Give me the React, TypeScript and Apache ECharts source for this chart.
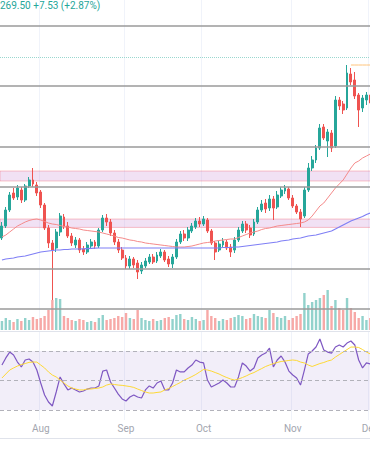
import React, { useEffect, useRef } from "react";
import * as echarts from "echarts";

const dates = [
  "2024-07-18","2024-07-19","2024-07-22","2024-07-23","2024-07-24","2024-07-25","2024-07-26","2024-07-29","2024-07-30","2024-07-31",
  "2024-08-01","2024-08-02","2024-08-05","2024-08-06","2024-08-07","2024-08-08","2024-08-09","2024-08-12","2024-08-13","2024-08-14",
  "2024-08-15","2024-08-16","2024-08-19","2024-08-20","2024-08-21","2024-08-22","2024-08-23","2024-08-26","2024-08-27","2024-08-28",
  "2024-08-29","2024-08-30","2024-09-03","2024-09-04","2024-09-05","2024-09-06","2024-09-09","2024-09-10","2024-09-11","2024-09-12",
  "2024-09-13","2024-09-16","2024-09-17","2024-09-18","2024-09-19","2024-09-20","2024-09-23","2024-09-24","2024-09-25","2024-09-26",
  "2024-09-27","2024-09-30","2024-10-01","2024-10-02","2024-10-03","2024-10-04","2024-10-07","2024-10-08","2024-10-09","2024-10-10",
  "2024-10-11","2024-10-14","2024-10-15","2024-10-16","2024-10-17","2024-10-18","2024-10-21","2024-10-22","2024-10-23","2024-10-24",
  "2024-10-25","2024-10-28","2024-10-29","2024-10-30","2024-10-31","2024-11-01","2024-11-04","2024-11-05","2024-11-06","2024-11-07",
  "2024-11-08","2024-11-11","2024-11-12","2024-11-13","2024-11-14","2024-11-15","2024-11-18","2024-11-19","2024-11-20","2024-11-21",
  "2024-11-22","2024-11-25","2024-11-26","2024-11-27","2024-11-29","2024-12-02","2024-12-03","2024-12-04",
];

// [open, close, low, high]
const ohlc: number[][] = [
  [179,185,178,187],[185,193,184,194.5],[193,200.5,192,202],[201.5,199,198,204],[199.5,204,198,205.5],
  [203,198,196.5,204.5],[198,205,197,206],[205,208,204,209.5],[208,206,204.5,214],[205.5,201.5,200,207],
  [202,195.5,194,203],[195.5,184,183,196.5],[184,176.5,174,185.5],[176.5,173,148,178],[174,182,172,183.5],
  [182,190,180,191.5],[189.5,185,183.5,191],[185,180,179,187],[180,176.5,175,181.5],[175.5,178,174,179.5],
  [178,173,171.5,179],[173.5,172,170.5,175],[172,175.5,171,177],[175,177,174,178.5],[177,175,173.5,178],
  [175,183,174,184],[183,189,182,190.5],[189,187,185,191],[187,181.5,180,188.5],[181.5,177,175.5,183],
  [177,173,171.5,178.5],[173,169,168,174.5],[169,165,163.5,170.5],[165,168.5,163.5,170],[168.5,165.5,164,169.5],
  [166.5,162,158.5,168],[162.5,165.5,161,167],[165,167.5,164,169],[167,169.5,166,171],[169.5,167,166,171],
  [167.5,170.5,166.5,172],[170,172,169,173.5],[172,168,167,173],[168.5,166,164.5,170],[166,169.5,164,171],
  [169.5,177,168.5,178.5],[177,181,176,182.5],[181,179,177.5,183],[179,183,177.5,184.5],[182.5,185,181.5,186.5],
  [184.5,187.5,183.5,189],[187.5,186,184.5,189.5],[186,188.5,185,190],[188,182.5,181.5,189],[182.5,176.5,175.5,183.5],
  [176.5,172,168,177.5],[173,176,172,177.5],[175.5,177.5,174.5,179],[177,174,173,178],[174.5,172,169.5,176],
  [173,178,171.5,179.5],[178,183,177,184.5],[182.5,186,181.5,187.5],[186,183,181.5,187.5],[184,180.5,179,185.5],
  [181,187,180,188.5],[187,193,186,194.5],[193,196,192,198],[196.5,193.5,191.5,198.5],[194,198.5,192.5,200.5],
  [198.5,194,188,200],[194.5,200.5,193.5,202.5],[200,203,199,204.5],[202.5,204,201,205.5],[203.5,199,198,204.5],
  [199,195,194,200.5],[195,192,191,196],[192,188.5,184.5,193.5],[190,203,189,204.5],[203,214,202,216.5],
  [214,218,212.5,220],[218,224,216.5,225.5],[224,234,223,236],[234.5,229,228,236],[227.5,232,219.5,233.5],
  [231.5,224,222,233],[225,248,224,250],[248,245,243,249.5],[246,243,241,247.5],[244,261.5,243,265.5],
  [261,257,255.5,264],[258,250,248.5,262],[250.5,243,234.5,251.5],[244,249,242,250.5],[248,250.5,245.5,252],
  [250.5,246.5,245,253],[246.5,252,244,254],[252,255.5,250,257],
];

const volumes = [
  9,12,10,8,11,9,12,10,13,11, 12,14,20,30,32,31,14,12,10,9,
  11,10,8,9,8,12,15,10,11,12, 14,13,17,12,11,20,12,10,9,11,
  9,10,12,13,11,15,16,11,10,13, 11,9,10,20,14,12,9,11,10,12,
  13,15,14,11,12,16,14,13,12,20, 17,13,12,14,10,12,14,16,37,25,
  28,30,32,35,40,24,30,22,20,32, 22,18,12,14,10,12,10,11,
];

const maFast = [
  179.5,180.5,182,183.5,185,186,187,187.75,188.25,188.5,
  188,187.25,186.5,186,185.75,185.25,184.75,184.5,184,183.75,
  183.5,183,182.75,182.5,182.25,182,181.5,181,180.5,180,
  179.25,179,178.5,178,177.75,177.25,177,176.5,176.25,176,
  175.75,175.5,175.25,175,174.75,174.5,174.5,174.5,174.75,175,
  175.5,176,176.5,176.75,177,177.5,177.75,178,178.25,178.5,
  178.5,179.25,180,180.75,181.5,182,182.5,183.25,183.75,184,
  184.5,185,185.25,185.5,185.75,186,186.25,186.5,187,188,
  190,192.5,195,196.5,199,201.5,204,206,208,211,
  214,216.5,217.5,219,220,221,222,223,
];

const maSlow = [
  168,168.5,168.75,169,169.5,169.75,170,170.5,171,171.5,
  172,172.25,172.5,172.75,173,173,173.25,173.25,173.5,173.5,
  173.5,173.6,173.7,173.8,173.9,174,174,174,174,174,
  174,174,174,174,174,174,174,174,174,174,
  174,174,174,174,174,174,174,174,174,174,
  174,174,174,174,174,174,174,174.25,174.25,174.25,
  174.5,174.5,174.75,175,175.25,175.5,175.75,176,176.25,176.5,
  176.75,177,177.5,177.75,178,178.5,178.75,179,179.5,180,
  180.25,180.5,181,181.5,182,182.5,183.5,184.5,185.5,186.5,
  187.5,188.25,189,189.75,190.75,191.5,192.25,193,
];

const rsi = [
  60.5,65.3,69.3,67.3,62.5,59.2,63.9,64.6,62.5,57.1,
  48.3,40.2,35.4,32.7,42.2,52.4,47.6,43.6,44.9,43.6,
  42.2,42.9,44.2,44.9,44.9,46.3,56.4,57.1,49.0,44.9,
  40.8,37.5,36.1,38.8,40.2,38.8,38.1,43.6,46.3,44.9,
  48.3,49.7,43.6,43.6,48.3,57.1,55.8,55.8,58.5,60.5,
  63.9,62.5,61.9,50.3,45.6,46.9,48.3,50.3,48.3,45.6,
  45.6,52.4,61.9,59.8,56.4,58.5,65.3,67.3,68.6,72.0,
  59.2,63.9,66.6,62.5,56.4,53.7,51.7,46.9,57.1,68.0,
  70.0,72.7,78.1,70.7,69.3,68.6,72.7,74.1,72.7,75.4,
  76.8,74.1,63.9,58.5,61.9,61.2,62.5,63.9,
];

const rsiMa = [
  51.7,54.4,57.1,58.5,59.8,60.8,61.5,62.3,62.5,62.5,
  60.5,58.5,55.8,53.7,52.4,50.3,48.3,46.3,44.9,44.2,
  43.6,43.6,44.2,44.2,44.6,44.9,45.6,46.9,47.6,47.3,
  46.9,46.7,46.3,45.9,45.3,44.2,43.2,42.2,41.5,41.5,
  41.9,42.2,43.6,44.6,45.9,47.3,48.6,50.3,51.4,52.7,
  54.1,55.8,57.5,57.1,56.4,55.4,54.4,53.1,52.0,51.0,
  50.3,51.0,52.0,53.1,54.4,55.4,56.8,58.1,59.5,60.5,
  61.5,62.2,62.9,63.2,63.6,63.9,63.6,62.5,61.9,60.5,
  59.5,60.5,61.5,62.2,63.2,63.9,65.9,67.6,69.3,71.0,
  72.7,72.7,72.4,71.0,69.3,68.0,66.6,65.3,
];

const levels = [285, 255, 224.5, 204.5, 163.5, 143.5];
const zones = [[212.5, 207.5], [188.5, 184.3]];
const lastPrice = 269.5;
const rsiLevels = [70, 50, 30];
const header = "269.50 +7.53 (+2.87%)";
const monthNames = ["Jan","Feb","Mar","Apr","May","Jun","Jul","Aug","Sep","Oct","Nov","Dec"];

const UP = "#26a69a";
const DOWN = "#ef5350";

export default function App() {
  const ref = useRef<HTMLDivElement>(null);
  useEffect(() => {
    const chart = echarts.init(ref.current!, null, { renderer: "svg" });
    const isMonthStart = (i: number) => i > 0 && dates[i].slice(5, 7) !== dates[i - 1].slice(5, 7);
    const monthLabel = (v: string) => monthNames[parseInt(v.slice(5, 7), 10) - 1];

    let peakIdx = 0;
    ohlc.forEach((d, i) => { if (d[3] > ohlc[peakIdx][3]) peakIdx = i; });
    const peakLine = dates.map((_, i) => (i > peakIdx ? ohlc[peakIdx][3] : null));

    const volData = volumes.map((v, i) => ({
      value: v,
      itemStyle: { color: ohlc[i][1] >= ohlc[i][0] ? "rgba(38,166,154,0.5)" : "rgba(239,83,80,0.5)" },
    }));

    const gridW = 380;
    const xBase = (gi: number, showLabel: boolean, split: boolean) => ({
      type: "category",
      gridIndex: gi,
      data: dates,
      boundaryGap: true,
      axisLine: { show: false },
      axisTick: { show: false },
      splitLine: {
        show: split,
        interval: (i: number) => isMonthStart(i),
        lineStyle: { color: "#f0f3fa", width: 1 },
      },
      axisLabel: showLabel
        ? {
            show: true,
            interval: (i: number) => isMonthStart(i),
            formatter: (v: string) => monthLabel(v),
            color: "#a3a6af",
            fontSize: 10,
            fontFamily: "Roboto",
            margin: 3,
          }
        : { show: false },
    });

    const option: any = {
      animation: false,
      backgroundColor: "#ffffff",
      grid: [
        { left: 0, top: 0, width: gridW, height: 330 },
        { left: 0, top: 250, width: gridW, height: 80 },
        { left: 0, top: 332, width: gridW, height: 88 },
      ],
      xAxis: [xBase(0, false, true), xBase(1, false, false), xBase(2, true, true)],
      yAxis: [
        { gridIndex: 0, min: 133, max: 298, show: false, splitLine: { show: false } },
        { gridIndex: 1, min: 0, max: 80, show: false, splitLine: { show: false } },
        { gridIndex: 2, min: 23.2, max: 82.9, show: false, splitLine: { show: false } },
      ],
      graphic: [
        {
          type: "text",
          x: 0,
          y: 0,
          style: { text: header, fill: UP, fontSize: 10, fontFamily: "Roboto", verticalAlign: "top" },
        },
        { type: "line", shape: { x1: 0, y1: 331.5, x2: 400, y2: 331.5 }, style: { stroke: "#e0e3eb", lineWidth: 1 } },
        { type: "line", shape: { x1: 0, y1: 438.5, x2: 400, y2: 438.5 }, style: { stroke: "#e0e3eb", lineWidth: 1 } },
      ],
      series: [
        {
          type: "bar",
          xAxisIndex: 1,
          yAxisIndex: 1,
          data: volData,
          barWidth: "62%",
          silent: true,
        },
        {
          type: "candlestick",
          xAxisIndex: 0,
          yAxisIndex: 0,
          data: ohlc,
          barWidth: "62%",
          itemStyle: { color: UP, color0: DOWN, borderColor: UP, borderColor0: DOWN, borderWidth: 1 },
          markArea: {
            silent: true,
            itemStyle: { color: "rgba(206,147,216,0.28)", borderColor: "rgba(242,54,69,0.28)", borderWidth: 1 },
            data: zones.map(([a, b]) => [{ yAxis: a }, { yAxis: b }]),
          },
          markLine: {
            silent: true,
            symbol: ["none", "none"],
            label: { show: false },
            lineStyle: { type: "solid" },
            data: [
              ...levels.map((v) => ({ yAxis: v, lineStyle: { color: "#9a9a9a", width: 1.6, type: "solid" } })),
              { yAxis: lastPrice, lineStyle: { color: "#9ad7cf", width: 1, type: "dotted" } },
            ],
          },
        },
        {
          type: "line",
          xAxisIndex: 0,
          yAxisIndex: 0,
          data: maFast,
          symbol: "none",
          lineStyle: { color: "#f48a8a", width: 1 },
          silent: true,
        },
        {
          type: "line",
          xAxisIndex: 0,
          yAxisIndex: 0,
          data: maSlow,
          symbol: "none",
          lineStyle: { color: "#7f7ff5", width: 1.2 },
          silent: true,
        },
        {
          type: "line",
          xAxisIndex: 0,
          yAxisIndex: 0,
          data: peakLine,
          symbol: "none",
          lineStyle: { color: "#ffc47a", width: 1 },
          silent: true,
        },
        {
          type: "line",
          xAxisIndex: 2,
          yAxisIndex: 2,
          data: rsi,
          symbol: "none",
          lineStyle: { color: "#7e57c2", width: 1.2 },
          silent: true,
          markArea: {
            silent: true,
            itemStyle: { color: "rgba(126,87,194,0.1)" },
            data: [[{ yAxis: 70 }, { yAxis: 30 }]],
          },
          markLine: {
            silent: true,
            symbol: ["none", "none"],
            label: { show: false },
            lineStyle: { color: "#b2b2ba", width: 1, type: [4, 3] },
            data: rsiLevels.map((v) => ({ yAxis: v })),
          },
        },
        {
          type: "line",
          xAxisIndex: 2,
          yAxisIndex: 2,
          data: rsiMa,
          symbol: "none",
          lineStyle: { color: "#fdd835", width: 1 },
          silent: true,
        },
      ],
    };
    chart.setOption(option);
    return () => chart.dispose();
  }, []);

  return (
    <div
      style={{
        position: "fixed",
        left: 0,
        top: 0,
        width: 370,
        height: 450,
        overflow: "hidden",
        background: "#ffffff",
      }}
    >
      <div ref={ref} style={{ width: 400, height: 450 }} />
    </div>
  );
}
